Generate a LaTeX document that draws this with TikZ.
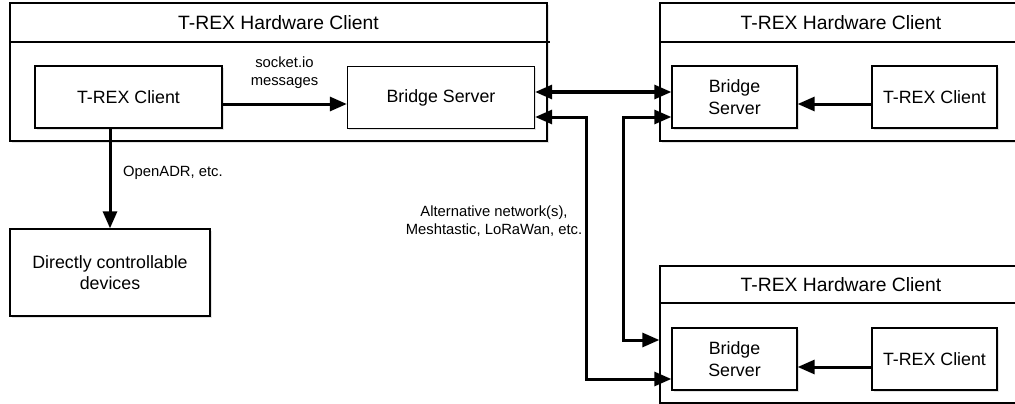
\documentclass[tikz,border=0pt]{standalone}
\usepackage{fontspec}
\setmainfont{Liberation Sans}
\usetikzlibrary{arrows.meta,shadows}

\tikzset{
  frame/.style={draw, line width=1.3pt, fill=white, inner sep=0pt,
    drop shadow={shadow xshift=1.8pt, shadow yshift=-1.8pt, opacity=0.22}},
  container/.style={frame},
  unit/.style={frame, align=center, font=\fontsize{17.8}{21.5}\selectfont},
  heading/.style={inner sep=0pt, font=\fontsize{19.3}{23}\selectfont},
  note/.style={inner sep=0pt, align=center, font=\fontsize{14.8}{17.8}\selectfont},
  divider/.style={line width=2pt},
  link/.style={line width=3pt, -{Triangle[length=17pt,width=14pt]}},
  duplex/.style={line width=3pt, {Triangle[length=17pt,width=14pt]}-{Triangle[length=17pt,width=14pt]}},
}

\begin{document}
\begin{tikzpicture}[x=1pt, y=-1pt]
  \useasboundingbox (0,0) rectangle (1015,404);
  \clip (0,0) rectangle (1015,404);

  % containers
  \node[container, minimum width=537pt, minimum height=138pt] (hw1) at (278.5,72) {};
  \node[container, minimum width=362pt, minimum height=138pt] (hw2) at (841,72) {};
  \node[container, minimum width=362pt, minimum height=137pt] (hw3) at (841,334.5) {};

  \node[heading] (t1) at (278.5,22.5) {T-REX Hardware Client};
  \node[heading] (t2) at (841,22.5) {T-REX Hardware Client};
  \node[heading] (t3) at (841,284.5) {T-REX Hardware Client};

  \draw[divider] (hw1.west |- 0,42) -- ([xshift=2pt]hw1.east |- 0,42);
  \draw[divider] (hw2.west |- 0,42) -- (hw2.east |- 0,42);
  \draw[divider] (hw3.west |- 0,303) -- (hw3.east |- 0,303);

  % inner units
  \node[unit, minimum width=187pt, minimum height=62pt] (c1) at (128.5,97) {T-REX Client};
  \node[unit, minimum width=187pt, minimum height=62pt] (b1) at (441,97.5) {Bridge Server};
  \node[unit, minimum width=200pt, minimum height=87pt] (dev) at (110,272.5) {Directly controllable\\devices};

  \node[unit, minimum width=125pt, minimum height=62pt] (b2) at (734.5,97) {Bridge\\Server};
  \node[unit, minimum width=125pt, minimum height=62pt] (c2) at (934.5,97) {T-REX Client};

  \node[unit, minimum width=125pt, minimum height=62pt] (b3) at (734.5,359) {Bridge\\Server};
  \node[unit, minimum width=125pt, minimum height=62pt] (c3) at (934.5,359) {T-REX Client};

  % labels
  \node[note] (lsock) at (284.5,73) {socket.io\\messages};
  \node[note, anchor=west] (ladr) at (123,173) {OpenADR, etc.};
  \node[note] (lalt) at (494,221) {Alternative network(s),\\Meshtastic, LoRaWan, etc.};

  % routing columns
  \coordinate (k1) at (586,0);
  \coordinate (k2) at (623,0);

  % connectors
  \draw[link] ([yshift=-7pt]c1.east) -- ([yshift=-7pt]c1.east -| b1.west);
  \draw[link] (c1.south -| dev.north) -- (dev.north);

  \draw[link] ([yshift=-7pt]c2.west) -- ([yshift=-7pt]c2.west -| b2.east);
  \draw[link] ([yshift=-8pt]c3.west) -- ([yshift=-8pt]c3.west -| b3.east);

  \draw[duplex] ([yshift=5.5pt]b1.east) -- ([yshift=5.5pt]b1.east -| b2.west);

  \draw[duplex] ([yshift=-19.5pt]b1.east)
     -- ([yshift=-19.5pt]b1.east -| k1)
     -- ([yshift=-20pt]b3.west -| k1)
     -- ([yshift=-20pt]b3.west);

  \draw[duplex] ([yshift=-20pt]b2.west)
     -- ([yshift=-20pt]b2.west -| k2)
     -- ([yshift=19pt]b3.west -| k2)
     -- ([yshift=19pt]b3.west -| hw3.west);
\end{tikzpicture}
\end{document}
